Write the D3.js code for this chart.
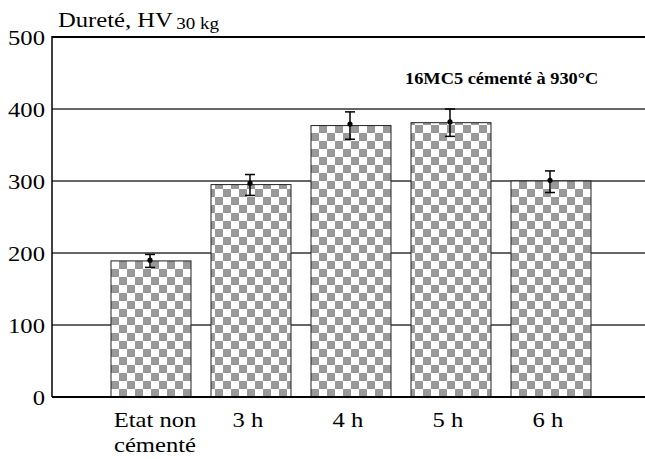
<!DOCTYPE html>
<html>
<head>
<meta charset="utf-8">
<script src="https://cdn.jsdelivr.net/npm/d3@7"></script>
<style>
  html, body { margin: 0; padding: 0; background: #fff; }
  svg { display: block; }
  text { font-family: "Liberation Serif", "Times New Roman", serif; fill: #000; }
</style>
</head>
<body>
<svg id="chart" width="645" height="459"></svg>
<script>
const categories = ["Etat non|cémenté", "3 h", "4 h", "5 h", "6 h"];
const barValues = [189, 295, 377, 381, 300];
const meanValues = [190, 297, 379, 382, 301];
const errLow = [180, 280, 358, 362, 284];
const errHigh = [198, 309, 396, 400, 314];
const yTicks = [0, 100, 200, 300, 400, 500];
const titleMain = "Dureté, HV";
const titleSub = "30 kg";
const note = "16MC5 cémenté à 930°C";

const plotLeft = 52, plotRight = 645, plotTop = 37, plotBottom = 397;
const sx = 1.12;

const svg = d3.select("#chart");

const defs = svg.append("defs");
const cell = 8;
const pat = defs.append("pattern")
  .attr("id", "checker")
  .attr("patternUnits", "userSpaceOnUse")
  .attr("width", cell * 2).attr("height", cell * 2)
  .attr("x", 111).attr("y", 397);
pat.append("rect").attr("width", cell * 2).attr("height", cell * 2).attr("fill", "#fff");
pat.append("rect").attr("width", cell).attr("height", cell).attr("fill", "#999");
pat.append("rect").attr("x", cell).attr("y", cell).attr("width", cell).attr("height", cell).attr("fill", "#999");

const x = d3.scaleBand().domain(categories).range([91, 611]).paddingInner(0.2).paddingOuter(0.2);
const y = d3.scaleLinear().domain([0, 500]).range([plotBottom, plotTop]);

// gridlines
svg.append("g").selectAll("line").data(yTicks.filter(d => d > 0)).join("line")
  .attr("x1", plotLeft).attr("x2", plotRight)
  .attr("y1", d => y(d)).attr("y2", d => y(d))
  .attr("stroke", d => d === 500 ? "#000" : "#333")
  .attr("stroke-width", d => d === 500 ? 2.2 : 1.3);

// bars
svg.append("g").selectAll("rect").data(categories).join("rect")
  .attr("x", d => x(d))
  .attr("width", x.bandwidth())
  .attr("y", (d, i) => y(barValues[i]))
  .attr("height", (d, i) => y(0) - y(barValues[i]))
  .attr("fill", "url(#checker)")
  .attr("stroke", "#222").attr("stroke-width", 1);

// axes lines
svg.append("line").attr("x1", plotLeft).attr("x2", plotLeft).attr("y1", y(500) - 1).attr("y2", y(0))
  .attr("stroke", "#000").attr("stroke-width", 1.5);
svg.append("line").attr("x1", plotLeft).attr("x2", plotRight).attr("y1", y(0)).attr("y2", y(0))
  .attr("stroke", "#000").attr("stroke-width", 1.8);

// error bars
const eg = svg.append("g").attr("stroke", "#000").attr("stroke-width", 1.5);
categories.forEach((c, i) => {
  const cx = x(c) + x.bandwidth() / 2 - 1;
  eg.append("line").attr("x1", cx).attr("x2", cx).attr("y1", y(errLow[i])).attr("y2", y(errHigh[i]));
  eg.append("line").attr("x1", cx - 5).attr("x2", cx + 5).attr("y1", y(errLow[i])).attr("y2", y(errLow[i]));
  eg.append("line").attr("x1", cx - 5).attr("x2", cx + 5).attr("y1", y(errHigh[i])).attr("y2", y(errHigh[i]));
  svg.append("circle").attr("cx", cx).attr("cy", y(meanValues[i])).attr("r", 2.6).attr("fill", "#000");
});

// y tick labels
svg.append("g").selectAll("text").data(yTicks).join("text")
  .attr("transform", d => `translate(${plotLeft - 7},${y(d)}) scale(${sx},1)`)
  .attr("text-anchor", "end")
  .attr("dominant-baseline", "central")
  .attr("font-size", 22)
  .text(d => d);

// x labels
categories.forEach((c, i) => {
  const lines = c.split("|");
  const cx = x(c) + x.bandwidth() / 2 + (lines.length > 1 ? 4 : -3);
  lines.forEach((ln, j) => {
    svg.append("text")
      .attr("transform", `translate(${cx},${427 + j * 25}) scale(${sx},1)`)
      .attr("text-anchor", "middle")
      .attr("font-size", 22)
      .text(ln);
  });
});

// title
const t = svg.append("text")
  .attr("transform", `translate(58,27) scale(${sx},1)`)
  .attr("font-size", 22);
t.append("tspan").text(titleMain);
t.append("tspan").attr("dx", 3).attr("dy", 2).attr("font-size", 17).text(titleSub);

// note
svg.append("text")
  .attr("transform", `translate(405,84) scale(1.08,1)`)
  .attr("font-size", 17)
  .attr("font-weight", "bold")
  .text(note);
</script>
</body>
</html>
